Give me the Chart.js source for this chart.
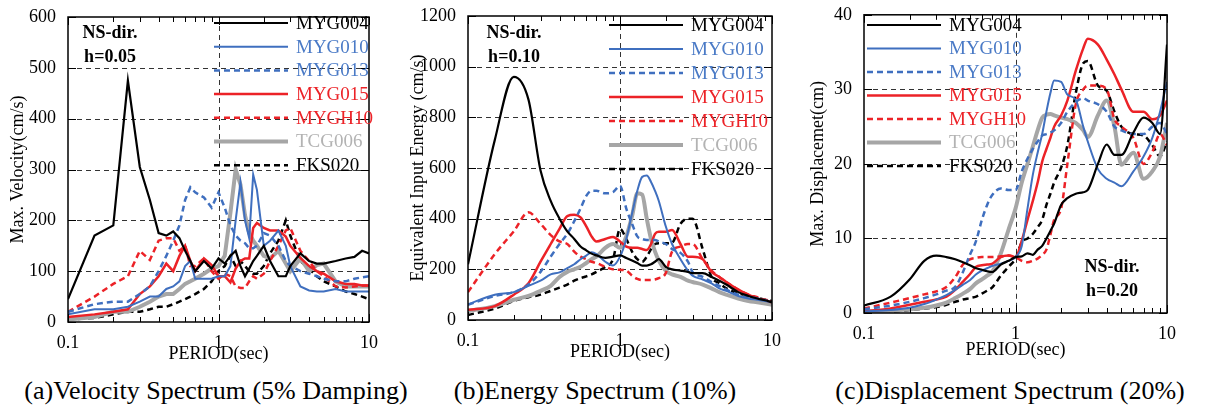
<!DOCTYPE html>
<html>
<head>
<meta charset="utf-8">
<script src="https://cdn.jsdelivr.net/npm/chart.js@4/dist/chart.umd.min.js"></script>
<style>
  body { margin: 0; background: #fff; width: 1216px; height: 409px; position: relative; overflow: hidden; font-family: "Liberation Serif", serif; }
  canvas { position: absolute; top: 0; }
  .caption { position: absolute; top: 376px; font-size: 26px; line-height: 30px; text-align: center; white-space: nowrap; color: #000; }
</style>
</head>
<body>
<canvas id="c1" width="380" height="370" style="left:0px"></canvas>
<canvas id="c2" width="385" height="370" style="left:400px"></canvas>
<canvas id="c3" width="416" height="370" style="left:800px"></canvas>
<div class="caption" style="left:16px;width:400px">(a)Velocity Spectrum (5% Damping)</div>
<div class="caption" style="left:420px;width:350px">(b)Energy Spectrum (10%)</div>
<div class="caption" style="left:810px;width:400px">(c)Displacement Spectrum (20%)</div>
<script>
// periods (sec) shared by every curve
const periods = [0.1,0.15,0.2,0.25,0.3,0.35,0.4,0.45,0.5,0.55,0.6,0.65,0.7,0.8,0.9,1.0,1.1,1.2,1.3,1.4,1.5,1.6,1.7,1.8,2.0,2.2,2.5,2.8,3.0,3.5,4.0,4.5,5.0,6.0,7.0,8.0,9.0,10.0];
const xTickValues = [0.1, 1, 10];
const stations = ['MYG004','MYG010','MYG013','MYG015','MYGH10','TCG006','FKS020'];

// (a) max. velocity (cm/s), h=0.05
const velTicks = [0,100,200,300,400,500,600];
const velMYG004 = [45,170,190,475,305,240,175,170,178,165,140,120,100,120,105,125,115,130,140,110,90,105,120,130,150,120,90,90,110,135,120,115,115,120,125,128,140,135];
const velMYG010 = [15,25,25,30,40,50,50,65,70,80,110,120,85,85,85,90,90,110,200,275,200,165,290,260,150,160,180,150,110,70,62,60,60,65,60,60,60,60];
const velMYG013 = [20,35,40,40,55,70,100,130,160,190,240,265,255,245,225,255,225,190,170,160,155,145,145,150,175,170,150,120,110,100,95,90,85,80,80,85,88,90];
const velMYG015 = [10,15,20,25,55,70,90,115,100,130,150,120,100,125,112,90,90,78,105,120,125,125,185,195,185,180,180,168,150,126,110,100,95,80,75,75,72,72];
const velMYGH10 = [20,50,75,90,140,122,160,165,165,140,150,110,110,125,100,85,95,90,70,67,67,80,90,85,95,120,150,180,185,140,120,100,90,70,68,70,72,72];
const velTCG006 = [5,10,20,20,30,40,50,55,55,65,75,80,85,95,105,110,130,215,300,270,210,175,160,150,130,125,140,115,100,125,100,112,115,80,70,70,70,70];
const velFKS020 = [5,8,15,20,20,25,30,30,35,40,45,50,55,65,80,100,110,130,110,120,110,100,95,95,110,135,160,200,170,120,105,90,80,70,60,55,50,45];

// (b) equivalent input energy (cm/s), h=0.10
const enTicks = [0,200,400,600,800,1000,1200];
const enMYG004 = [220,710,960,870,590,470,400,350,320,290,275,262,255,245,250,255,245,235,225,215,215,220,230,240,210,200,195,190,185,185,170,155,140,110,95,85,78,70];
const enMYG010 = [62,100,110,135,155,180,188,205,220,240,254,267,260,230,215,250,320,420,510,565,570,545,510,470,370,300,240,195,175,160,145,125,115,95,85,80,75,70];
const enMYG013 = [60,95,110,140,190,250,300,340,390,440,490,510,510,500,505,530,440,380,330,320,316,316,316,310,300,280,265,230,190,170,150,135,120,100,90,85,78,70];
const enMYG015 = [40,55,100,145,230,300,360,410,415,405,370,330,310,320,328,310,290,285,285,280,276,300,340,348,348,355,300,250,250,240,190,170,150,120,100,85,78,70];
const enMYGH10 = [110,260,350,425,380,335,310,300,270,250,240,230,225,210,200,198,195,175,162,158,158,158,160,165,185,270,290,300,300,240,195,170,150,120,100,90,80,75];
const enTCG006 = [35,55,80,95,115,135,170,190,200,210,225,240,250,285,300,285,330,410,500,495,400,320,270,235,195,180,170,155,150,140,125,110,100,85,75,70,65,60];
const enFKS020 = [20,45,75,90,100,115,128,140,155,165,172,180,190,210,240,360,320,270,240,230,250,280,300,303,303,305,380,400,400,280,170,145,125,105,95,88,80,75];

// (c) max. displacement (cm), h=0.20
const disTicks = [0,10,20,30,40];
const disMYG004 = [1.0,2.2,4.5,7.0,7.7,7.5,7.2,6.8,6.4,6.0,5.8,5.6,5.5,6.5,7.0,7.5,7.6,8.0,7.8,8.5,9.0,10.0,11.0,12.0,14.5,15.4,16.0,16.2,16.5,20.0,22.6,21.2,21.2,24.2,26.2,25.5,24.0,36.0];
const disMYG010 = [0.2,0.4,0.7,1.2,1.8,2.4,3.1,3.8,4.4,5.2,5.7,6.0,6.3,6.6,7.0,7.5,9.0,14.0,18.5,21.5,24.0,27.0,29.5,31.2,31.0,29.3,28.6,25.0,23.0,19.3,18.0,17.5,17.0,19.0,21.0,23.5,27.0,31.0];
const disMYG013 = [0.5,1.0,1.5,2.0,2.5,3.0,3.5,5.5,7.8,9.7,12.5,14.5,15.8,16.7,16.5,16.5,19.0,20.7,22.0,23.0,23.8,24.0,24.2,24.5,25.5,27.0,28.3,28.8,28.5,28.0,27.0,25.0,24.5,24.0,24.0,25.0,25.5,24.0];
const disMYG015 = [0.2,0.6,1.1,1.5,1.8,2.2,3.1,4.2,5.2,6.2,6.4,6.5,6.6,7.5,7.7,7.5,9.7,12.5,15.0,17.5,20.3,22.0,23.5,25.0,26.5,28.5,32.5,35.5,36.8,36.0,34.0,32.0,30.0,27.0,27.0,26.0,26.5,28.5];
const disMYGH10 = [0.6,1.4,2.0,2.5,2.9,3.5,4.8,6.5,7.2,7.4,7.5,7.5,7.5,7.6,7.7,7.5,7.0,6.8,7.0,7.3,7.8,8.5,10.5,12.5,14.0,20.0,28.0,30.0,30.5,30.5,30.0,26.0,25.0,23.5,20.0,21.6,24.0,22.5];
const disTCG006 = [0.2,0.3,0.5,0.7,1.0,1.4,2.0,2.6,3.2,4.0,4.5,5.0,5.5,8.0,11.2,14.0,17.5,20.0,22.3,24.5,26.2,26.6,26.7,26.5,26.2,26.0,25.5,24.5,23.6,26.5,28.5,25.0,19.9,21.5,18.0,19.0,21.0,25.5];
const disFKS020 = [0.2,0.2,0.4,0.6,0.8,1.1,1.5,1.8,2.0,2.2,2.6,3.0,3.4,5.0,6.2,7.3,9.5,10.0,10.6,11.5,12.5,14.5,16.0,17.5,19.5,22.5,29.5,33.5,33.8,30.5,29.8,27.0,25.0,24.0,23.8,22.5,21.0,23.0];

// line styles, one per station
const lineColors = ['#000000','#3f6fbf','#3f6fbf','#ec2227','#ec2227','#a6a6a6','#000000'];
const textColors = ['#000000','#4a7ac6','#4a7ac6','#ec2227','#ec2227','#b3b3b3','#000000'];
const lineWidths = [2.2, 2, 2.5, 2.5, 2.5, 4, 2.5];
const lineDashes = [[], [], [6,4], [], [6,4], [], [6,4]];

const serif = '"Liberation Serif", "Times New Roman", serif';

// frame, inward ticks, dashed grid, legend and note
const framePlugin = {
  id: 'frame',
  beforeDatasetsDraw(chart) {
    const {ctx, chartArea: a, scales: {x, y}} = chart;
    ctx.save();
    ctx.strokeStyle = '#333';
    ctx.lineWidth = 1;
    ctx.setLineDash([5, 4]);
    y.ticks.forEach(t => {
      if (t.value <= y.min || t.value >= y.max) return;
      const py = Math.round(y.getPixelForValue(t.value)) + 0.5;
      ctx.beginPath(); ctx.moveTo(a.left, py); ctx.lineTo(a.right, py); ctx.stroke();
    });
    const px = Math.round(x.getPixelForValue(1)) + 0.5;
    ctx.beginPath(); ctx.moveTo(px, a.top); ctx.lineTo(px, a.bottom); ctx.stroke();
    ctx.restore();
  },
  afterDatasetsDraw(chart, args, opts) {
    const {ctx, chartArea: a, scales: {x, y}} = chart;
    ctx.save();
    ctx.strokeStyle = '#000';
    ctx.lineWidth = 1.5;
    ctx.setLineDash([]);
    ctx.strokeRect(a.left, a.top, a.right - a.left, a.bottom - a.top);
    ctx.lineWidth = 1;
    // x ticks, majors and minors, top and bottom
    for (let d = 0.1; d < 10; d *= 10) {
      for (let m = 1; m <= 10; m++) {
        const v = d * m;
        const px = Math.round(x.getPixelForValue(v)) + 0.5;
        const len = (m === 1 || m === 10) ? 8 : 5;
        ctx.beginPath();
        ctx.moveTo(px, a.bottom); ctx.lineTo(px, a.bottom - len);
        ctx.moveTo(px, a.top); ctx.lineTo(px, a.top + len);
        ctx.stroke();
      }
    }
    y.ticks.forEach(t => {
      const py = Math.round(y.getPixelForValue(t.value)) + 0.5;
      ctx.beginPath();
      ctx.moveTo(a.left, py); ctx.lineTo(a.left + 8, py);
      ctx.moveTo(a.right, py); ctx.lineTo(a.right - 8, py);
      ctx.stroke();
    });
    // legend
    const lg = opts.legend;
    ctx.font = '19px ' + serif;
    ctx.textBaseline = 'middle';
    ctx.textAlign = 'left';
    chart.data.datasets.forEach((ds, i) => {
      const ly = lg.y + i * lg.dy;
      ctx.strokeStyle = ds.borderColor;
      ctx.lineWidth = ds.borderWidth;
      ctx.setLineDash(ds.borderDash);
      ctx.beginPath(); ctx.moveTo(lg.x0, ly); ctx.lineTo(lg.x1, ly); ctx.stroke();
      ctx.fillStyle = textColors[i];
      ctx.fillText(ds.label, lg.tx, ly + 1);
    });
    // note
    const nt = opts.note;
    ctx.font = 'bold 18px ' + serif;
    ctx.fillStyle = '#000';
    ctx.textAlign = 'center';
    nt.lines.forEach((s, k) => ctx.fillText(s, nt.x, nt.y + k * 24));
    ctx.restore();
  }
};

function makeChart(id, cfg) {
  const datasets = stations.map((name, i) => ({
    label: name,
    data: periods.map((p, k) => ({x: p, y: cfg.values[i][k]})),
    borderColor: lineColors[i],
    borderWidth: lineWidths[i],
    borderDash: lineDashes[i],
    pointRadius: 0,
    fill: false,
    tension: 0,
    cubicInterpolationMode: cfg.smooth ? 'monotone' : 'default'
  }));
  return new Chart(document.getElementById(id), {
    type: 'line',
    data: { datasets: datasets },
    plugins: [framePlugin],
    options: {
      responsive: false,
      animation: false,
      layout: { padding: { top: cfg.top, right: cfg.right, bottom: 0, left: 0 } },
      scales: {
        x: {
          type: 'logarithmic',
          min: 0.1,
          max: 10,
          afterBuildTicks: s => { s.ticks = xTickValues.map(v => ({value: v})); },
          afterFit: s => { s.height = cfg.xAxisHeight; },
          grid: { display: false },
          border: { display: false },
          ticks: { color: '#000', font: { family: serif, size: 18 }, padding: 2, maxRotation: 0, autoSkip: false, callback: v => String(v) },
          title: { display: true, text: 'PERIOD(sec)', color: '#000', font: { family: serif, size: 18 }, padding: { top: 0, bottom: cfg.xTitlePad } }
        },
        y: {
          type: 'linear',
          min: 0,
          max: cfg.yTicks[cfg.yTicks.length - 1],
          afterBuildTicks: s => { s.ticks = cfg.yTicks.map(v => ({value: v})); },
          afterFit: s => { s.width = cfg.yAxisWidth; },
          grid: { display: false },
          border: { display: false },
          ticks: { color: '#000', font: { family: serif, size: 18 }, padding: 4, callback: v => String(v) },
          title: { display: true, text: cfg.yTitle, color: '#000', font: { family: serif, size: 18 }, padding: { top: 7, bottom: 0 } }
        }
      },
      plugins: {
        legend: { display: false },
        tooltip: { enabled: false },
        frame: cfg.frame
      }
    }
  });
}

makeChart('c1', {
  values: [velMYG004, velMYG010, velMYG013, velMYG015, velMYGH10, velTCG006, velFKS020],
  yTicks: velTicks, yTitle: 'Max. Velocity(cm/s)', smooth: false,
  top: 17, right: 10, yAxisWidth: 68, xAxisHeight: 48, xTitlePad: 5,
  frame: { legend: { x0: 214, x1: 288, tx: 296, y: 23, dy: 23.7 }, note: { x: 110, y: 33, lines: ['NS-dir.', 'h=0.05'] } }
});
makeChart('c2', {
  values: [enMYG004, enMYG010, enMYG013, enMYG015, enMYGH10, enTCG006, enFKS020],
  yTicks: enTicks, yTitle: 'Equivalent Input Energy (cm/s)', smooth: true,
  top: 16, right: 13, yAxisWidth: 68, xAxisHeight: 50, xTitlePad: 7,
  frame: { legend: { x0: 209, x1: 283, tx: 291, y: 25, dy: 24 }, note: { x: 114, y: 33, lines: ['NS-dir.', 'h=0.10'] } }
});
makeChart('c3', {
  values: [disMYG004, disMYG010, disMYG013, disMYG015, disMYGH10, disTCG006, disFKS020],
  yTicks: disTicks, yTitle: 'Max. Displacemet(cm)', smooth: true,
  top: 11, right: 49, yAxisWidth: 64, xAxisHeight: 57, xTitlePad: 9,
  frame: { legend: { x0: 67, x1: 141, tx: 149, y: 25, dy: 23.5 }, note: { x: 312, y: 267, lines: ['NS-dir.', 'h=0.20'] } }
});
</script>
</body>
</html>
